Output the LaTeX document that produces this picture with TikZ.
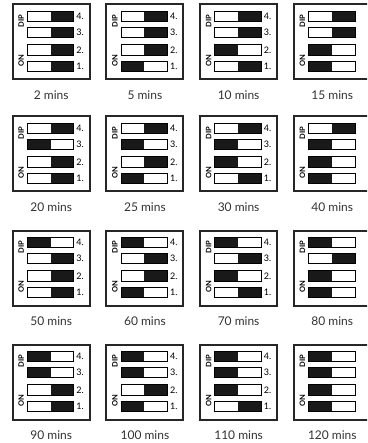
\documentclass[tikz,border=0pt]{standalone}
\usepackage{fontspec}
\setmainfont{Lato}
\usepackage{tikz}

% one DIP panel: name, left, top, setting (0-15), caption, show numbers
\newcommand{\dippanel}[6]{%
  \begin{scope}[shift={(#2,-#3)}]
    \node[panel] (#1) at (38.5,-38) {};
    \node[diplbl] (#1-dip) at (8.5,-17) {DIP};
    \node[diplbl] (#1-on) at (8.5,-57) {ON};
    \foreach \n/\yc in {4/12.5,3/28.5,2/46,1/62.5} {
      \pgfmathtruncatemacro\b{mod(floor(#4/2^(\n-1)),2)}
      \node[switch] (#1-s\n) at (38,-\yc) {};
      \ifnum\b=1
        \fill[lever] (#1-s\n.south west) rectangle (#1-s\n.north);
      \else
        \fill[lever] (#1-s\n.south) rectangle (#1-s\n.north east);
      \fi
      \draw[swline] (#1-s\n.south west) rectangle (#1-s\n.north east);
      \ifnum#6=1 \node[num] (#1-n\n) at (63.5,-\yc) {\n.};\fi
    }
  \end{scope}
  \node[caption] (#1-cap) at (#2+38.5,-#3-91.5) {#5};
}

\begin{document}
\begin{tikzpicture}[x=1pt, y=1pt,
  panel/.style={draw=black!85, line width=2pt, minimum width=77pt, minimum height=75pt, inner sep=0pt},
  switch/.style={minimum width=46pt, minimum height=10.5pt, inner sep=0pt},
  swline/.style={draw=black, line width=1pt},
  lever/.style={fill=black!90},
  diplbl/.style={font=\bfseries\fontsize{7.5}{8}\selectfont, rotate=90, inner sep=0pt},
  num/.style={font=\fontsize{9}{10}\selectfont, anchor=west, inner sep=0pt},
  caption/.style={font=\fontsize{12}{14}\selectfont, text=black!80, inner sep=0pt}
]
\useasboundingbox (0,0) rectangle (367,-443);
\clip (0,0) rectangle (367,-443);

\dippanel{p2}{12.7}{4}{0}{2 mins}{1}
\dippanel{p5}{106.4}{4}{1}{5 mins}{1}
\dippanel{p10}{200.1}{4}{2}{10 mins}{1}
\dippanel{p15}{293.8}{4}{3}{15 mins}{0}

\dippanel{p20}{12.7}{116}{4}{20 mins}{1}
\dippanel{p25}{106.4}{116}{5}{25 mins}{1}
\dippanel{p30}{200.1}{116}{6}{30 mins}{1}
\dippanel{p40}{293.8}{116}{7}{40 mins}{0}

\dippanel{p50}{12.7}{230}{8}{50 mins}{1}
\dippanel{p60}{106.4}{230}{9}{60 mins}{1}
\dippanel{p70}{200.1}{230}{10}{70 mins}{1}
\dippanel{p80}{293.8}{230}{11}{80 mins}{0}

\dippanel{p90}{12.7}{344}{12}{90 mins}{1}
\dippanel{p100}{106.4}{344}{13}{100 mins}{1}
\dippanel{p110}{200.1}{344}{14}{110 mins}{1}
\dippanel{p120}{293.8}{344}{15}{120 mins}{0}
\end{tikzpicture}
\end{document}
